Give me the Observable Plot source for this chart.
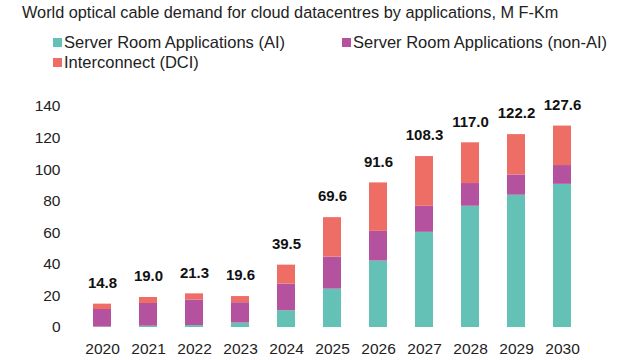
<!DOCTYPE html>
<html>
<head>
<meta charset="utf-8">
<script src="https://cdn.jsdelivr.net/npm/d3@7"></script>
<script src="https://cdn.jsdelivr.net/npm/@observablehq/plot@0.6"></script>
<style>
  body { margin: 0; background: #fff; font-family: "Liberation Sans", Arial, sans-serif; }
  #wrap { position: relative; width: 640px; height: 360px; overflow: hidden; }
  .title { position: absolute; left: 22px; top: 3px; font-size: 16.3px; color: #222; white-space: nowrap; }
  .leg { position: absolute; font-size: 16.5px; color: #222; white-space: nowrap; display: flex; align-items: center; }
  .sw { width: 9px; height: 9px; margin-right: 2px; display: inline-block; }
  #chart { position: absolute; left: 0; top: 88px; }
</style>
</head>
<body>
<div id="wrap">
  <div class="title">World optical cable demand for cloud datacentres by applications, M F-Km</div>
  <div id="legend"></div>
  <div id="chart"></div>
</div>
<script>
const years = ["2020","2021","2022","2023","2024","2025","2026","2027","2028","2029","2030"];
const seriesNames = ["Server Room Applications (AI)", "Server Room Applications (non-AI)", "Interconnect (DCI)"];
const colors = ["#63c1b6", "#b5529f", "#ee6e66"];
const aiValues    = [0.3, 0.8, 1.2, 2.8, 10.6, 24.3, 42.1, 60.3, 76.8, 83.8, 90.7];
const nonAiValues = [11.1, 14.4, 16.2, 12.9, 16.9, 20.3, 18.8, 16.5, 14.4, 12.8, 11.9];
const dciValues   = [3.4, 3.8, 3.9, 3.9, 12.0, 25.0, 30.7, 31.5, 25.8, 25.6, 25.0];
const totals      = [14.8, 19.0, 21.3, 19.6, 39.5, 69.6, 91.6, 108.3, 117.0, 122.2, 127.6];
const yTicks = [0, 20, 40, 60, 80, 100, 120, 140];

// legend
const legendPos = [[53, 33], [342, 33], [53, 53]];
const legend = document.getElementById("legend");
seriesNames.forEach((n, i) => {
  const d = document.createElement("div");
  d.className = "leg";
  d.style.left = legendPos[i][0] + "px";
  d.style.top = legendPos[i][1] + "px";
  d.innerHTML = `<span class="sw" style="background:${colors[i]}"></span>${n}`;
  legend.appendChild(d);
});

const seriesValues = [aiValues, nonAiValues, dciValues];
const data = [];
seriesNames.forEach((s, si) => years.forEach((y, i) => data.push({year: y, series: s, value: seriesValues[si][i]})));
const totalData = years.map((y, i) => ({year: y, total: totals[i]}));

const plot = Plot.plot({
  width: 640,
  height: 272,
  marginTop: 18,
  marginBottom: 33,
  marginLeft: 62,
  marginRight: 37,
  style: {fontFamily: "Liberation Sans, Arial, sans-serif", fontSize: "15.5px", color: "#222", background: "transparent"},
  x: {domain: years, padding: 0.6, label: null, tickSize: 0, tickPadding: 15},
  y: {domain: [0, 140], ticks: yTicks, label: null, tickSize: 0, tickPadding: 2},
  color: {domain: seriesNames, range: colors},
  marks: [
    Plot.barY(data, {x: "year", y: "value", fill: "series", order: seriesNames}),
    Plot.text(totalData, {x: "year", y: "total", text: d => d.total.toFixed(1), dy: -21, fontWeight: "bold", fontSize: 15, fill: "#111"})
  ]
});
document.getElementById("chart").appendChild(plot);
</script>
</body>
</html>
